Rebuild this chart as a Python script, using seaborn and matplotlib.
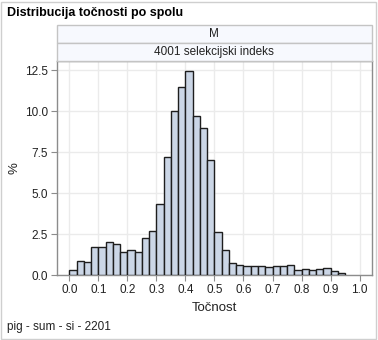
import numpy as np
import pandas as pd
import seaborn as sns
import matplotlib
matplotlib.use("Agg")
import matplotlib.pyplot as plt
from matplotlib.patches import Rectangle

# Histogram of accuracy (Točnost), percent of animals per 0.025-wide bin
bin_width = 0.025
bin_left = [round(i * bin_width, 3) for i in range(38)]
percent = [0.30, 0.85, 0.77, 1.69, 1.73, 1.99, 1.87, 1.38, 1.50, 1.42,
           2.26, 2.66, 4.31, 7.18, 10.02, 11.48, 12.42, 9.70, 8.94, 7.01,
           2.60, 1.52, 0.71, 0.59, 0.57, 0.55, 0.55, 0.47, 0.55, 0.53,
           0.59, 0.30, 0.39, 0.30, 0.35, 0.43, 0.26, 0.12]
x_ticks = [0.0, 0.1, 0.2, 0.3, 0.4, 0.5, 0.6, 0.7, 0.8, 0.9, 1.0]
y_ticks = [0.0, 2.5, 5.0, 7.5, 10.0, 12.5]

title = "Distribucija točnosti po spolu"
panel_row1 = "M"
panel_row2 = "4001 selekcijski indeks"
x_label = "Točnost"
y_label = "%"
footnote = "pig - sum - si - 2201"

df = pd.DataFrame({"center": [b + bin_width / 2 for b in bin_left],
                   "pct": percent})
edges = [b for b in bin_left] + [bin_left[-1] + bin_width]

sns.set_theme(style="white")
plt.rcParams["font.family"] = ["Liberation Sans", "DejaVu Sans"]

W, H = 378, 340
fig = plt.figure(figsize=(W / 100, H / 100), dpi=100)
fig.patch.set_facecolor("white")

# axes box in pixel coordinates
left_px, right_px, top_px, bottom_px = 57, 371.7, 61, 275
ax = fig.add_axes([left_px / W, 1 - bottom_px / H,
                   (right_px - left_px) / W, (bottom_px - top_px) / H])

sns.histplot(data=df, x="center", weights="pct", bins=edges, ax=ax,
             stat="count", color="#CBD6E6", alpha=1.0,
             edgecolor="#1E1E1E", linewidth=1.0, zorder=3)

ax.set_xlim(-0.043, 1.042)
ax.set_ylim(0, 13.05)
ax.set_xticks(x_ticks)
ax.set_xticklabels([f"{t:.1f}" for t in x_ticks])
ax.set_yticks(y_ticks)
ax.set_yticklabels([f"{t:.1f}" for t in y_ticks])
ax.grid(True, color="#EBEBEB", linewidth=1.0, zorder=0)
ax.set_axisbelow(True)
for s in ax.spines.values():
    s.set_color("#8C8C8C")
    s.set_linewidth(1.0)
ax.tick_params(axis="both", which="major", labelsize=8.5, colors="#8C8C8C",
               labelcolor="#222222", length=4, width=0.8, direction="out",
               pad=2.5)
ax.tick_params(axis="x", bottom=True)
ax.tick_params(axis="y", left=True)
ax.set_xlabel(x_label, fontsize=9.5, color="#222222", labelpad=4)
ax.set_ylabel("")

# y-axis title placed at a fixed spot left of the tick labels
fig.text(14 / W, 1 - 168 / H, y_label, rotation=90, ha="center",
         va="center", fontsize=9.5, color="#222222")

# panel header strips above the plot
def strip(y0, y1, text):
    fig.patches.append(Rectangle((left_px / W, 1 - y1 / H),
                                 (right_px - left_px) / W, (y1 - y0) / H,
                                 transform=fig.transFigure,
                                 facecolor="#F7F9FE", edgecolor="#C4C4C4",
                                 linewidth=1.0))
    fig.text((left_px + right_px) / 2 / W, 1 - (y0 + y1) / 2 / H, text,
             ha="center", va="center", fontsize=8.5, color="#222222")

strip(25, 43, panel_row1)
strip(43, 61, panel_row2)

fig.text(7 / W, 1 - 13 / H, title, ha="left", va="center",
         fontsize=9, fontweight="bold", color="#000000")
fig.text(7 / W, 1 - 327 / H, footnote, ha="left", va="center",
         fontsize=8.5, color="#222222")

# light frame around the whole graphic
fig.patches.append(Rectangle((1 / W, 1 / H), (W - 3) / W, (H - 3) / H,
                             transform=fig.transFigure, fill=False,
                             edgecolor="#CFCFCF", linewidth=1.0))

fig.savefig("out.png", dpi=100)
